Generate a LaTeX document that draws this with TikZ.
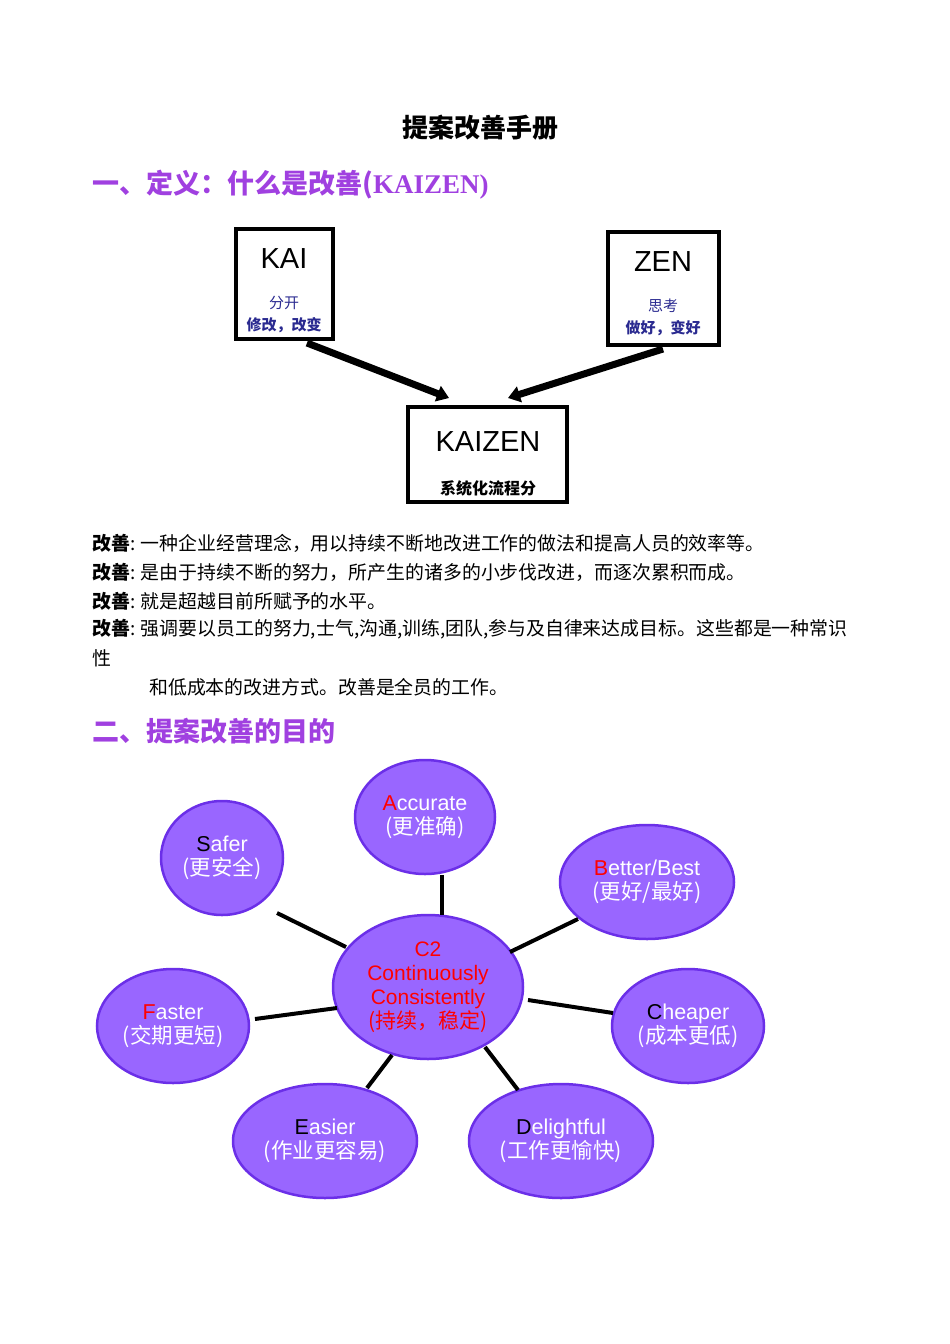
\documentclass[tikz,border=0pt]{standalone}
\usepackage{fontspec}
\setmainfont{Liberation Sans}
\newfontfamily\cjk{Noto Sans CJK SC}
\definecolor{purp}{HTML}{9966FF}
\definecolor{purpb}{HTML}{6B2FE8}
\definecolor{head}{HTML}{A040E0}
\definecolor{dblue}{HTML}{2A2A90}
\begin{document}
\begin{tikzpicture}[x=1pt,y=-1pt,
  bub/.style={ellipse,draw=purpb,line width=2.5pt,fill=purp,text=white,align=center,font=\fontsize{21.5}{24}\selectfont,inner sep=0pt},
  conn/.style={line width=4pt},
  big/.style={-{Triangle[length=12pt,width=16pt]},line width=7pt},
  body/.style={anchor=west,font=\cjk\fontsize{18.9}{20}\selectfont,inner sep=0pt}]
\usetikzlibrary{shapes.geometric,arrows.meta}
\useasboundingbox (0,0) rectangle (950,1344);
\node (t) at (480,128) {\cjk\bfseries\fontsize{26}{30}\selectfont 提案改善手册};
\node[anchor=west,text=head,inner sep=0pt] (h1) at (92,185) {\cjk\bfseries\fontsize{27}{30}\selectfont 一、定义：什么是改善(\fontspec{Liberation Serif}KAIZEN)};
% boxes
\draw[line width=3.5pt] (236,229) rectangle (333,339);
\node (kai) at (284,259) {\fontsize{29}{30}\selectfont KAI};
\node[text=dblue,align=center,font=\cjk\fontsize{15}{24}\selectfont] (kais) at (284,314) {分开\\[-2pt]\textbf{修改，改变}};
\draw[line width=3.5pt] (608,232) rectangle (719,345);
\node (zen) at (663,262) {\fontsize{29}{30}\selectfont ZEN};
\node[text=dblue,align=center,font=\cjk\fontsize{15}{24}\selectfont] (zens) at (663,317) {思考\\[-2pt]\textbf{做好，变好}};
\draw[line width=3.5pt] (408,407) rectangle (567,502);
\node (kz) at (488,442) {\fontsize{29}{30}\selectfont KAIZEN};
\node (kzs) at (488,488) {\cjk\bfseries\fontsize{16}{18}\selectfont 系统化流程分};
\coordinate (a1) at (307,343); \coordinate (a2) at (449,398);
\coordinate (b1) at (663,349); \coordinate (b2) at (508,398);
\draw[big] (a1) -- (a2);
\draw[big] (b1) -- (b2);
% body
\node[body] (l1) at (92,543) {\bfseries 改善\mdseries: 一种企业经营理念，用以持续不断地改进工作的做法和提高人员的效率等。};
\node[body] (l2) at (92,572) {\bfseries 改善\mdseries: 是由于持续不断的努力，所产生的诸多的小步伐改进，而逐次累积而成。};
\node[body] (l3) at (92,601) {\bfseries 改善\mdseries: 就是超越目前所赋予的水平。};
\node[body] (l4) at (92,629) {\bfseries 改善\mdseries: 强调要以员工的努力,士气,沟通,训练,团队,参与及自律来达成目标。这些都是一种常识};
\node[body] (l5) at (92,658) {性};
\node[body] (l6) at (149,687) {和低成本的改进方式。改善是全员的工作。};
\node[anchor=west,text=head,inner sep=0pt] (h2) at (92,731) {\cjk\bfseries\fontsize{27}{30}\selectfont 二、提案改善的目的};
% bubbles
\node[bub,minimum width=140pt,minimum height=114pt] (acc) at (425,817) {\textcolor{red}{A}ccurate\\{\cjk (更准确)}};
\node[bub,minimum width=122pt,minimum height=114pt] (saf) at (222,858) {\textcolor{black}{S}afer\\{\cjk (更安全)}};
\node[bub,minimum width=174pt,minimum height=114pt] (bet) at (647,882) {\textcolor{red}{B}etter/Best\\{\cjk (更好/最好)}};
\node[bub,minimum width=190pt,minimum height=144pt,text=red,font=\fontsize{21}{24}\selectfont] (c2) at (428,987) {C2\\Continuously\\Consistently\\{\cjk (持续，稳定)}};
\node[bub,minimum width=152pt,minimum height=114pt] (fas) at (173,1026) {\textcolor{red}{F}aster\\{\cjk (交期更短)}};
\node[bub,minimum width=152pt,minimum height=114pt] (che) at (688,1026) {\textcolor{black}{C}heaper\\{\cjk (成本更低)}};
\node[bub,minimum width=184pt,minimum height=114pt] (eas) at (325,1141) {\textcolor{black}{E}asier\\{\cjk (作业更容易)}};
\node[bub,minimum width=184pt,minimum height=114pt] (del) at (561,1141) {\textcolor{black}{D}elightful\\{\cjk (工作更愉快)}};
\coordinate (s1) at (277,913); \coordinate (s2) at (346,947);
\draw[conn] (s1) -- (s2);
\draw[conn] (acc.south -| 442,0) -- (442,915);
\coordinate (bb1) at (578,919); \coordinate (bb2) at (510,952);
\draw[conn] (bb1) -- (bb2);
\coordinate (cc1) at (528,1000); \coordinate (cc2) at (613,1013);
\draw[conn] (cc1) -- (cc2);
\coordinate (f1) at (255,1019); \coordinate (f2) at (337,1008);
\draw[conn] (f1) -- (f2);
\coordinate (e1) at (367,1088); \coordinate (e2) at (392,1055);
\draw[conn] (e1) -- (e2);
\coordinate (d1) at (485,1047); \coordinate (d2) at (518,1090);
\draw[conn] (d1) -- (d2);
\end{tikzpicture}
\end{document}
